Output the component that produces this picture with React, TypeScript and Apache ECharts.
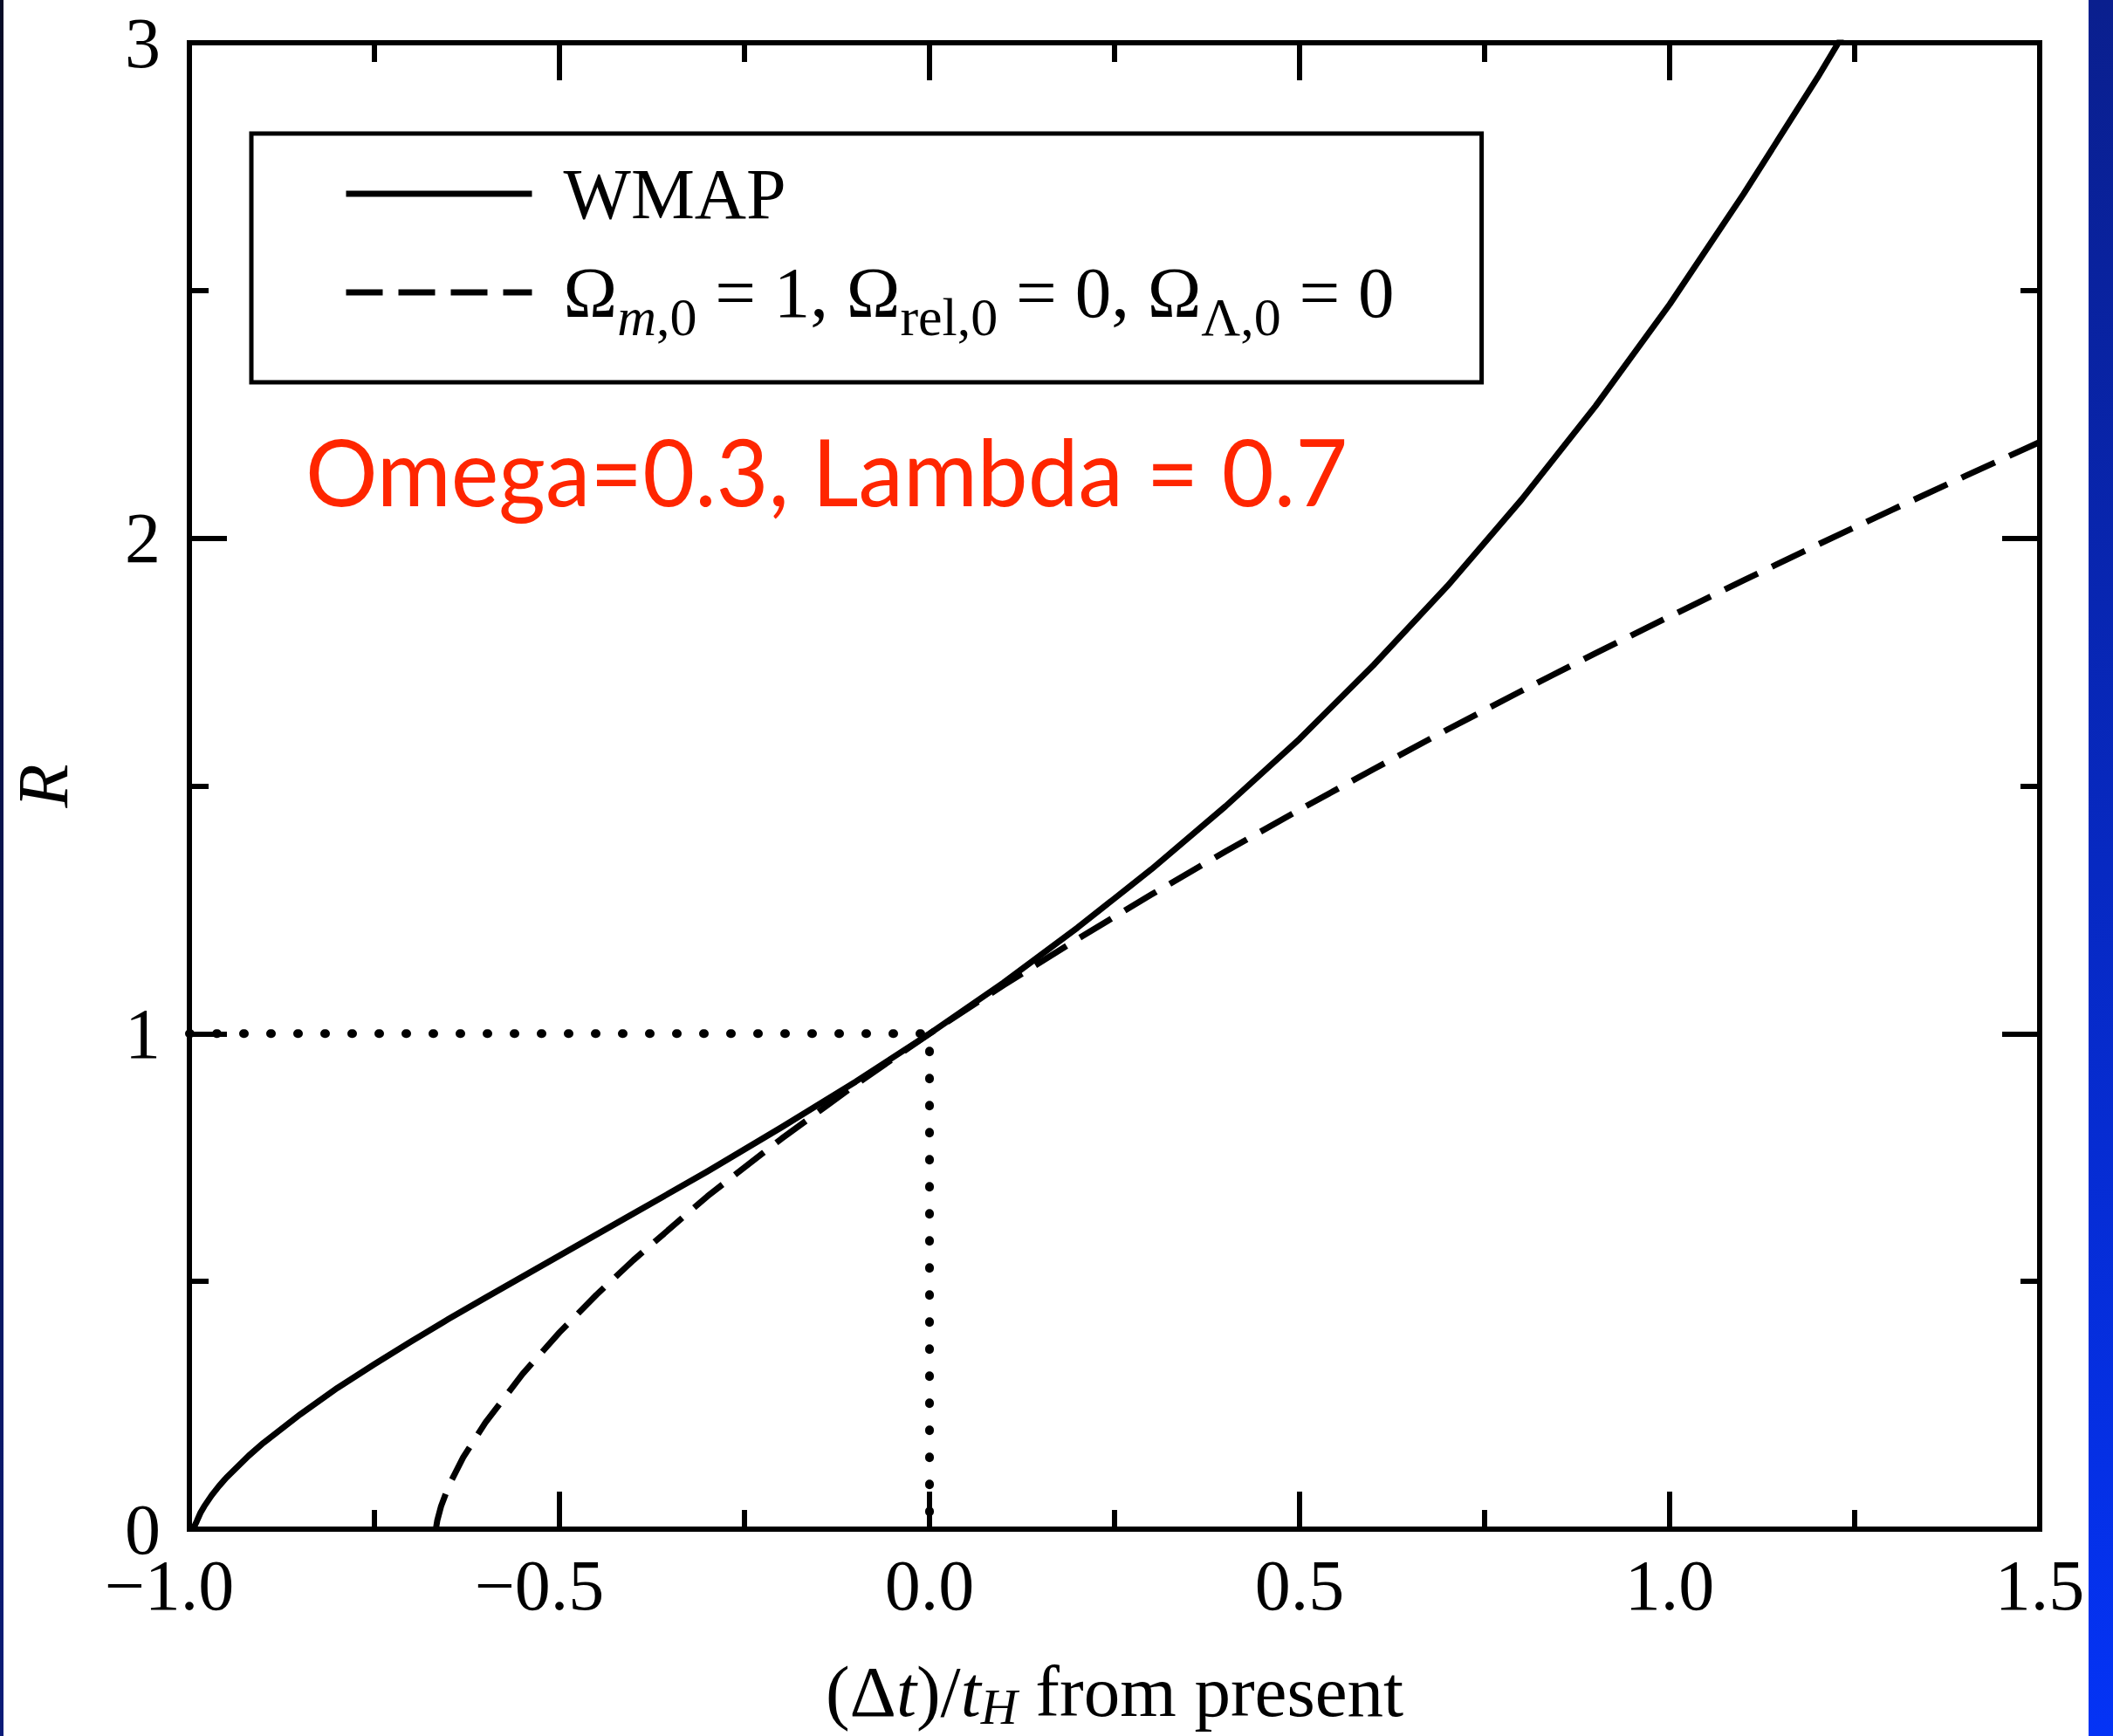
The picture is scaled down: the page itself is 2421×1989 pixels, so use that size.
import React, { useEffect, useRef } from 'react';
import * as echarts from 'echarts';

// Axis ranges (tick spacing)
const xMin = -1.0;
const xMax = 1.5;
const xStep = 0.5;
const yMin = 0;
const yMax = 3;
const yStep = 1;

// WMAP (solid) curve: R vs (Δt)/t_H
const wmapX = [-0.995, -0.99, -0.985, -0.98, -0.97, -0.96, -0.95, -0.92, -0.9, -0.85, -0.8, -0.75, -0.7, -0.65, -0.6, -0.5, -0.4, -0.3, -0.2, -0.1, 0, 0.1, 0.2, 0.3, 0.4, 0.5, 0.6, 0.7, 0.8, 0.9, 1.0, 1.1, 1.2, 1.24];
const wmapR = [0, 0.016, 0.033, 0.046, 0.068, 0.087, 0.104, 0.148, 0.174, 0.232, 0.285, 0.333, 0.379, 0.424, 0.467, 0.552, 0.637, 0.722, 0.811, 0.903, 1.0, 1.103, 1.214, 1.332, 1.459, 1.595, 1.744, 1.904, 2.078, 2.267, 2.472, 2.695, 2.93, 3.03];

// Einstein–de Sitter (dashed) curve
const edsX = [-0.667, -0.665, -0.66, -0.65, -0.63, -0.6, -0.55, -0.5, -0.45, -0.4, -0.3, -0.2, -0.1, 0, 0.1, 0.2, 0.3, 0.4, 0.5, 0.6, 0.7, 0.8, 0.9, 1.0, 1.1, 1.2, 1.3, 1.4, 1.5];
const edsR = [0, 0.018, 0.046, 0.086, 0.145, 0.215, 0.313, 0.397, 0.473, 0.543, 0.672, 0.788, 0.897, 1.0, 1.098, 1.191, 1.281, 1.368, 1.452, 1.534, 1.614, 1.692, 1.768, 1.842, 1.915, 1.987, 2.057, 2.126, 2.194];

// Dotted guide marking the present (Δt = 0, R = 1)
const guideX = [-1.0, 0, 0];
const guideR = [1, 1, 0];

const seriesNames = ['WMAP', 'Ωm,0 = 1, Ωrel,0 = 0, ΩΛ,0 = 0'];
const annotation = 'Omega=0.3, Lambda = 0.7';
const yTitle = 'R';

const zip = (xs: number[], ys: number[]) => xs.map((x, i) => [x, ys[i]]);

const SERIF = 'Liberation Serif';

export default function App() {
  const ref = useRef<HTMLDivElement>(null);
  useEffect(() => {
    const el = ref.current!;
    const chart = echarts.init(el, null, { renderer: 'svg', width: 2421, height: 1989 });

    const tickStyle = {
      inside: true,
      length: 43,
      lineStyle: { color: '#000', width: 6 },
    };
    const minorStyle = {
      show: true,
      splitNumber: 2,
      length: 22,
      lineStyle: { color: '#000', width: 6 },
    };
    const noLine = { show: false, onZero: false };

    const xLabelFmt = (v: number) => {
      const s = Math.abs(v).toFixed(1);
      return v < 0 ? `\u2212${s}{p| }` : s;
    };

    const option: any = {
      animation: false,
      backgroundColor: '#ffffff',
      grid: {
        left: 217,
        right: 84,
        top: 49,
        bottom: 237,
        show: true,
        borderColor: '#000',
        borderWidth: 6,
        backgroundColor: 'transparent',
        containLabel: false,
        outerBoundsMode: 'none',
      },
      legend: {
        orient: 'vertical',
        left: 288,
        top: 153,
        padding: [28, 100, 44, 105],
        itemGap: 13,
        itemWidth: 213,
        itemHeight: 14,
        backgroundColor: '#fff',
        borderColor: '#000',
        borderWidth: 5,
        borderRadius: 0,
        selectedMode: false,
        data: seriesNames,
        lineStyle: { width: 'inherit' },
        itemStyle: { opacity: 0, borderWidth: 0 },
        formatter: (name: string) =>
          name === seriesNames[0]
            ? '{w|WMAP}'
            : '{a|Ω}{si|m}{s|,0}{a| = 1, Ω}{s|rel,0}{a| = 0, Ω}{s|Λ,0}{a| = 0}',
        textStyle: {
          fontFamily: SERIF,
          fontSize: 82,
          color: '#000',
          padding: [0, 0, 0, 31],
          rich: {
            w: { fontFamily: SERIF, fontSize: 82, lineHeight: 90, color: '#000' },
            a: { fontFamily: SERIF, fontSize: 83, lineHeight: 90, color: '#000' },
            s: { fontFamily: SERIF, fontSize: 62, lineHeight: 34, padding: [56, 0, 0, 0], color: '#000' },
            si: { fontFamily: SERIF, fontSize: 62, fontStyle: 'italic', lineHeight: 34, padding: [56, 0, 0, 0], color: '#000' },
          },
        },
      },
      xAxis: [
        {
          type: 'value',
          position: 'bottom',
          min: xMin,
          max: xMax,
          interval: xStep,
          axisLine: noLine,
          axisTick: tickStyle,
          minorTick: minorStyle,
          splitLine: { show: false },
          axisLabel: {
            show: true,
            showMinLabel: true,
            showMaxLabel: true,
            margin: 39,
            color: '#000',
            fontFamily: SERIF,
            fontSize: 82,
            lineHeight: 50,
            formatter: xLabelFmt,
            rich: { p: { width: 46, fontFamily: SERIF, fontSize: 82, lineHeight: 50 } },
          },
          name: '(Δ{it|t})/{it|t}{sub|H} from present',
          nameLocation: 'middle',
          nameGap: 146,
          nameTextStyle: {
            fontFamily: SERIF,
            fontSize: 83,
            lineHeight: 80,
            color: '#000',
            rich: {
              it: { fontFamily: SERIF, fontSize: 83, lineHeight: 80, fontStyle: 'italic', color: '#000' },
              sub: { fontFamily: SERIF, fontSize: 58, lineHeight: 45, padding: [35, 0, 0, 0], fontStyle: 'italic', color: '#000' },
            },
          },
        },
        {
          type: 'value',
          position: 'top',
          min: xMin,
          max: xMax,
          interval: xStep,
          axisLine: noLine,
          axisTick: tickStyle,
          minorTick: minorStyle,
          splitLine: { show: false },
          axisLabel: { show: false },
        },
      ],
      yAxis: [
        {
          type: 'value',
          position: 'left',
          min: yMin,
          max: yMax,
          interval: yStep,
          axisLine: noLine,
          axisTick: tickStyle,
          minorTick: minorStyle,
          splitLine: { show: false },
          axisLabel: {
            show: true,
            showMinLabel: true,
            showMaxLabel: true,
            margin: 33,
            color: '#000',
            fontFamily: SERIF,
            fontSize: 82,
            lineHeight: 50,
            padding: [0, 0, 10, 0],
            formatter: (v: number) => String(v),
          },
          name: yTitle,
          nameLocation: 'middle',
          nameGap: 127,
          nameTextStyle: {
            fontFamily: SERIF,
            fontSize: 82,
            fontStyle: 'italic',
            color: '#000',
          },
        },
        {
          type: 'value',
          position: 'right',
          min: yMin,
          max: yMax,
          interval: yStep,
          axisLine: noLine,
          axisTick: tickStyle,
          minorTick: minorStyle,
          splitLine: { show: false },
          axisLabel: { show: false },
        },
      ],
      series: [
        {
          name: 'guide',
          type: 'line',
          xAxisIndex: 0,
          yAxisIndex: 0,
          data: zip(guideX, guideR),
          symbol: 'none',
          lineStyle: { color: '#000', width: 10, type: [1, 30], cap: 'round' },
          z: 1,
          silent: true,
        },
        {
          name: seriesNames[0],
          type: 'line',
          xAxisIndex: 0,
          yAxisIndex: 0,
          data: zip(wmapX, wmapR),
          symbol: 'none',
          smooth: false,
          color: '#000',
          lineStyle: { color: '#000', width: 7, join: 'round' },
          z: 3,
        },
        {
          name: seriesNames[1],
          type: 'line',
          xAxisIndex: 0,
          yAxisIndex: 0,
          data: zip(edsX, edsR),
          symbol: 'none',
          smooth: false,
          color: '#000',
          lineStyle: { color: '#000', width: 7, type: [42, 18], join: 'round' },
          z: 2,
        },
      ],
      graphic: [
        {
          type: 'rect',
          shape: { x: 0, y: 0, width: 4, height: 1989 },
          style: {
            fill: {
              type: 'linear', x: 0, y: 0, x2: 0, y2: 1,
              colorStops: [
                { offset: 0, color: '#070b26' },
                { offset: 1, color: '#0b1c78' },
              ],
            },
          },
          silent: true,
        },
        {
          type: 'rect',
          shape: { x: 2393, y: 0, width: 28, height: 1989 },
          style: {
            fill: {
              type: 'linear', x: 0, y: 0, x2: 0, y2: 1,
              colorStops: [
                { offset: 0, color: '#0a1f8e' },
                { offset: 1, color: '#0433f5' },
              ],
            },
          },
          silent: true,
        },
        {
          type: 'text',
          x: 350,
          y: 539,
          scaleX: 0.975,
          style: {
            text: annotation,
            fontFamily: 'Lato',
            fontSize: 106,
            fill: '#ff2600',
            align: 'left',
            verticalAlign: 'middle',
          },
          silent: true,
          z: 10,
        },
      ],
    };

    chart.setOption(option);
    return () => chart.dispose();
  }, []);

  return (
    <div
      ref={ref}
      style={{ position: 'fixed', left: 0, top: 0, width: 2421, height: 1989, background: '#fff' }}
    />
  );
}
